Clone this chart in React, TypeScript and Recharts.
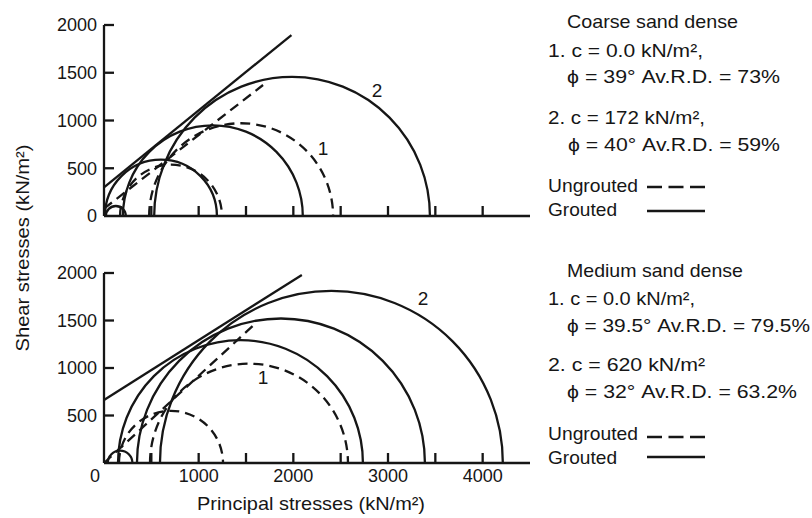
import React from "react";
import { ScatterChart, Scatter, XAxis, YAxis } from "recharts";

const INK = "#161616";
const FONT = "'Liberation Sans', Arial, Helvetica, sans-serif";
const SW = 2.3;

// Mohr circles as principal stresses [sigma3, sigma1] in kN/m2
const coarseGrouted = [
  [10, 1193],
  [200, 2100],
  [530, 3443],
  [20, 230],
];
const coarseUngrouted = [
  [170, 1246],
  [477, 2420],
];
// failure envelopes, endpoints (sigma, tau)
const coarseGroutedEnvelope = [
  { x: 0, y: 300 },
  { x: 1980, y: 1895 },
];
const coarseUngroutedEnvelope = [
  { x: 0, y: 77 },
  { x: 1680, y: 1372 },
];

const mediumGrouted = [
  [148, 2735],
  [348, 3390],
  [591, 4213],
  [40, 300],
];
const mediumUngrouted = [
  [158, 1257],
  [486, 2577],
];
const mediumGroutedEnvelope = [
  { x: 0, y: 663 },
  { x: 2090, y: 1979 },
];
const mediumUngroutedEnvelope = [
  { x: 0, y: 0 },
  { x: 1590, y: 1460 },
];

const xTicks = [0, 500, 1000, 1500, 2000, 2500, 3000, 3500, 4000];
const xLabels = [0, 1000, 2000, 3000, 4000];
const yTicks = [0, 500, 1000, 1500, 2000];

const DASH = "10 6";
const TICK_LEN = 10;
const X_MARGIN = 6;
const Y_MARGIN = 7;

const toArc = ([s3, s1]: number[]) => [
  { x: s3, y: 0 },
  { x: (s1 + s3) / 2, y: (s1 - s3) / 2 },
  { x: s1, y: 0 },
];

const hidden = () => <g />;

// draws the semicircle through the three scaled points (left end, top, right end)
const arcLine = (dash?: string) => (props: any) => {
  const pts = props.points;
  if (!pts || pts.length < 3) return <g />;
  const [a, top, b] = pts;
  const rx = (b.x - a.x) / 2;
  const ry = a.y - top.y;
  return (
    <path
      d={`M${a.x},${a.y} A${rx},${ry} 0 0 1 ${b.x},${b.y}`}
      fill="none"
      stroke={INK}
      strokeWidth={SW}
      strokeDasharray={dash}
    />
  );
};

const straightLine = (dash?: string) => (props: any) => {
  const pts = props.points;
  if (!pts || pts.length < 2) return <g />;
  const [a, b] = pts;
  return (
    <path
      d={`M${a.x},${a.y} L${b.x},${b.y}`}
      fill="none"
      stroke={INK}
      strokeWidth={SW}
      strokeDasharray={dash}
    />
  );
};

type PanelProps = {
  grouted: number[][];
  ungrouted: number[][];
  groutedEnv: { x: number; y: number }[];
  ungroutedEnv: { x: number; y: number }[];
  showXLabels: boolean;
  showYZero: boolean;
  height: number;
  bottom: number;
  xHeight: number;
};

function MohrPanel(p: PanelProps) {
  // inward tick marks, filled bars placed back from the label position
  const xTick = (props: any) => {
    const v = Number(props.payload.value);
    const axisY = Number(props.y) - X_MARGIN;
    const showLabel = p.showXLabels && xLabels.includes(v);
    return (
      <g>
        {v > 0 ? (
          <rect
            x={Number(props.x) - SW / 2}
            y={axisY - TICK_LEN}
            width={SW}
            height={TICK_LEN}
            fill={INK}
          />
        ) : null}
        {showLabel ? (
          <text
            x={v === 0 ? props.x - 9 : props.x}
            y={props.y}
            dy="0.71em"
            textAnchor="middle"
            fontSize={18}
            fontFamily={FONT}
            fill={INK}
          >
            {v}
          </text>
        ) : null}
      </g>
    );
  };
  const yTick = (props: any) => {
    const v = Number(props.payload.value);
    const axisX = Number(props.x) + Y_MARGIN;
    return (
      <g>
        {v > 0 ? (
          <rect
            x={axisX}
            y={Number(props.y) - SW / 2}
            width={TICK_LEN}
            height={SW}
            fill={INK}
          />
        ) : null}
        {v !== 0 || p.showYZero ? (
          <text
            x={props.x}
            y={props.y}
            dy="0.36em"
            textAnchor="end"
            fontSize={18}
            fontFamily={FONT}
            fill={INK}
          >
            {v}
          </text>
        ) : null}
      </g>
    );
  };

  return (
    <ScatterChart
      width={560}
      height={p.height}
      margin={{ top: 25, right: 30, bottom: p.bottom, left: 34 }}
    >
      <XAxis
        type="number"
        dataKey="x"
        domain={[0, 4500]}
        ticks={xTicks}
        interval={0}
        height={p.xHeight}
        tickSize={0}
        tickMargin={X_MARGIN}
        axisLine={{ stroke: INK, strokeWidth: SW }}
        tickLine={false}
        tick={xTick}
      />
      <YAxis
        type="number"
        dataKey="y"
        domain={[0, 2000]}
        ticks={yTicks}
        interval={0}
        width={70}
        tickSize={0}
        tickMargin={Y_MARGIN}
        axisLine={{ stroke: INK, strokeWidth: SW }}
        tickLine={false}
        tick={yTick}
      />
      {p.grouted.map((c, i) => (
        <Scatter
          key={"g" + i}
          data={toArc(c)}
          shape={hidden}
          line={arcLine()}
          isAnimationActive={false}
        />
      ))}
      {p.ungrouted.map((c, i) => (
        <Scatter
          key={"u" + i}
          data={toArc(c)}
          shape={hidden}
          line={arcLine(DASH)}
          isAnimationActive={false}
        />
      ))}
      <Scatter
        data={p.groutedEnv}
        shape={hidden}
        line={straightLine()}
        isAnimationActive={false}
      />
      <Scatter
        data={p.ungroutedEnv}
        shape={hidden}
        line={straightLine(DASH)}
        isAnimationActive={false}
      />
    </ScatterChart>
  );
}

type TextLine = { t: string; x: number; y: number; w: number };

const coarseLegend: TextLine[] = [
  { t: "Coarse sand dense", x: 567, y: 28, w: 171 },
  { t: "1. c = 0.0 kN/m²,", x: 548, y: 57, w: 155 },
  { t: "\u03d5 = 39° Av.R.D. = 73%", x: 567, y: 83, w: 213 },
  { t: "2. c = 172 kN/m²,", x: 548, y: 124, w: 157 },
  { t: "\u03d5 = 40° Av.R.D. = 59%", x: 568, y: 151, w: 212 },
  { t: "Ungrouted", x: 548, y: 192, w: 90 },
  { t: "Grouted", x: 548, y: 216, w: 69 },
];
const mediumLegend: TextLine[] = [
  { t: "Medium sand dense", x: 567, y: 277, w: 176 },
  { t: "1. c = 0.0 kN/m²,", x: 548, y: 305, w: 147 },
  { t: "\u03d5 = 39.5° Av.R.D. = 79.5%", x: 567, y: 332, w: 243 },
  { t: "2. c = 620 kN/m²", x: 548, y: 371, w: 157 },
  { t: "\u03d5 = 32° Av.R.D. = 63.2%", x: 567, y: 398, w: 230 },
  { t: "Ungrouted", x: 548, y: 440, w: 90 },
  { t: "Grouted", x: 548, y: 464, w: 69 },
];

function Overlay() {
  const txt = (l: TextLine, i: number) => (
    <text
      key={i}
      x={l.x}
      y={l.y}
      textLength={l.w}
      lengthAdjust="spacingAndGlyphs"
      fontSize={19}
      fontFamily={FONT}
      fill={INK}
    >
      {l.t}
    </text>
  );
  return (
    <svg
      width={812}
      height={518}
      style={{ position: "absolute", left: 0, top: 0, pointerEvents: "none" }}
    >
      {coarseLegend.map(txt)}
      {mediumLegend.map(txt)}
      <path d="M647,187 H705" stroke={INK} strokeWidth={SW} strokeDasharray="15 6.5" />
      <path d="M647,211 H705" stroke={INK} strokeWidth={SW} />
      <path d="M647,437 H705" stroke={INK} strokeWidth={SW} strokeDasharray="15 6.5" />
      <path d="M647,457 H705" stroke={INK} strokeWidth={SW} />
      <g fontSize={19} fontFamily={FONT} fill={INK} textAnchor="middle">
        <text x={377} y={97}>2</text>
        <text x={323} y={155}>1</text>
        <text x={423} y={305}>2</text>
        <text x={263} y={384}>1</text>
        <text x={311} y={510} textLength={228} lengthAdjust="spacingAndGlyphs">
          Principal stresses (kN/m²)
        </text>
        <text
          x={0}
          y={0}
          transform="translate(29,248) rotate(-90)"
          textLength={207}
          lengthAdjust="spacingAndGlyphs"
        >
          Shear stresses (kN/m²)
        </text>
      </g>
    </svg>
  );
}

export default function App() {
  return (
    <div
      style={{
        position: "absolute",
        left: 0,
        top: 0,
        width: 812,
        height: 518,
        background: "#fff",
        fontFamily: FONT,
      }}
    >
      <div style={{ position: "absolute", left: 0, top: 0 }}>
        <MohrPanel
          grouted={coarseGrouted}
          ungrouted={coarseUngrouted}
          groutedEnv={coarseGroutedEnvelope}
          ungroutedEnv={coarseUngroutedEnvelope}
          showXLabels={false}
          showYZero={true}
          height={250}
          bottom={4}
          xHeight={30}
        />
      </div>
      <div style={{ position: "absolute", left: 0, top: 248 }}>
        <MohrPanel
          grouted={mediumGrouted}
          ungrouted={mediumUngrouted}
          groutedEnv={mediumGroutedEnvelope}
          ungroutedEnv={mediumUngroutedEnvelope}
          showXLabels={true}
          showYZero={false}
          height={260}
          bottom={5}
          xHeight={40}
        />
      </div>
      <Overlay />
    </div>
  );
}
